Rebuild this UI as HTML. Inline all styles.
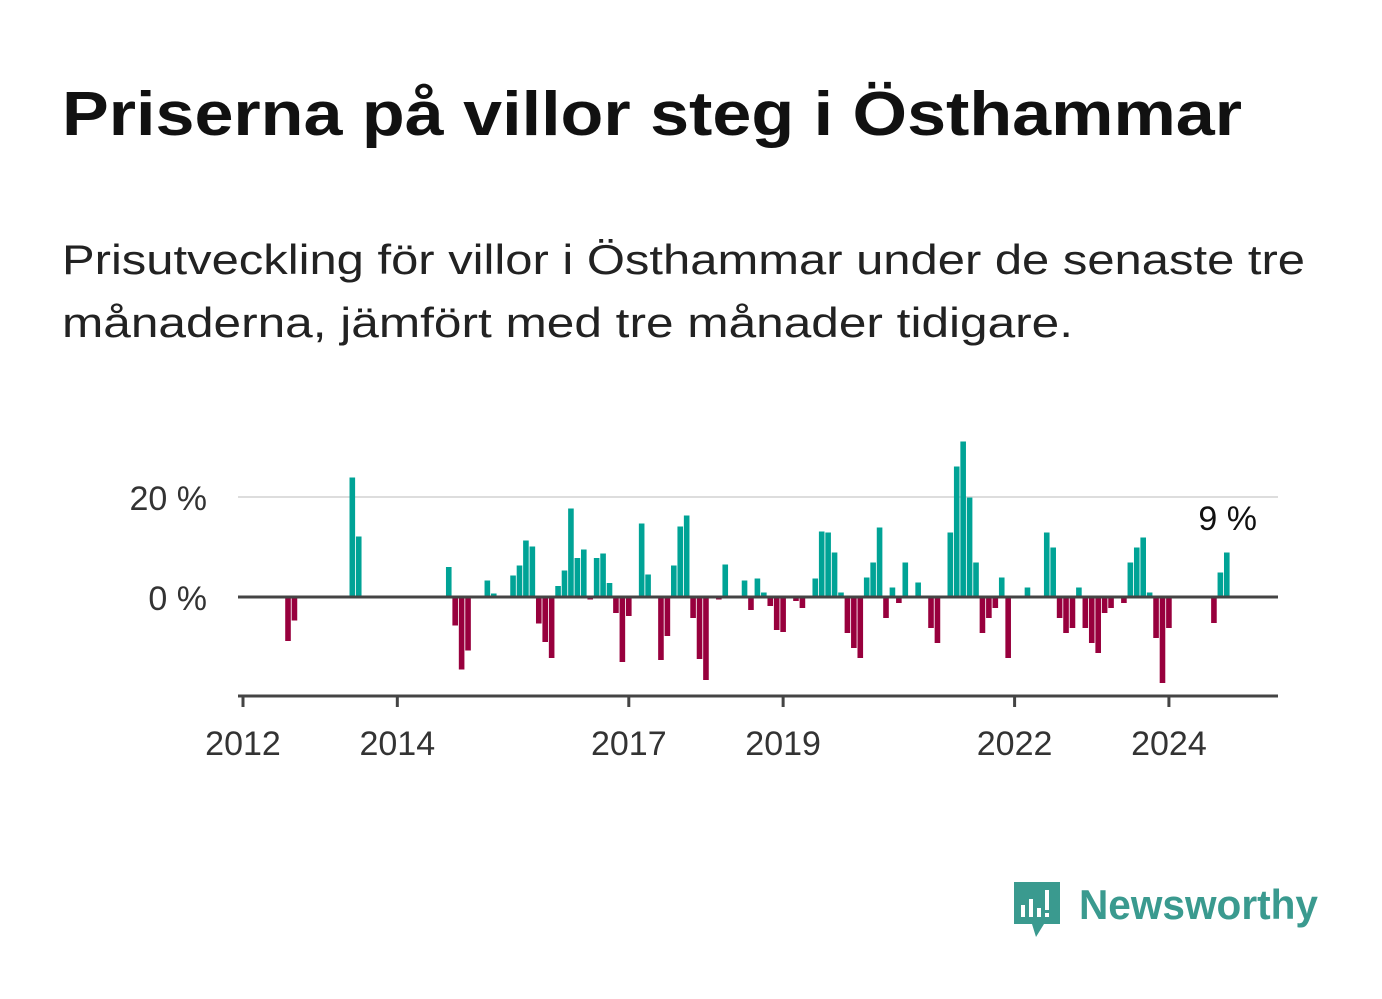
<!DOCTYPE html>
<html><head><meta charset="utf-8"><style>
html,body{margin:0;padding:0;background:#fff;}
svg{display:block;font-family:"Liberation Sans",sans-serif;}
</style></head><body>
<svg width="1382" height="999" viewBox="0 0 1382 999">
<text x="62" y="135" font-size="62" font-weight="bold" fill="#111" textLength="1180" lengthAdjust="spacingAndGlyphs">Priserna på villor steg i Östhammar</text>
<text x="62" y="274" font-size="42" fill="#222" textLength="1243" lengthAdjust="spacingAndGlyphs">Prisutveckling för villor i Östhammar under de senaste tre</text>
<text x="62" y="337" font-size="42" fill="#222" textLength="1011" lengthAdjust="spacingAndGlyphs">månaderna, jämfört med tre månader tidigare.</text>
<g id="plot"></g>
<g>
<path d="M1014 882 h46 v42 h-16 l-8 13 l-4 -13 h-18 z" fill="#3a9a8f"/>
<rect x="1021" y="905" width="4" height="12" fill="#fff"/>
<rect x="1029" y="899" width="4" height="18" fill="#fff"/>
<rect x="1037" y="908" width="4" height="9" fill="#fff"/>
<rect x="1045" y="890" width="4" height="20" fill="#fff"/>
<rect x="1045" y="913" width="4" height="4" fill="#fff"/>
<text x="1079" y="919" font-size="42" font-weight="bold" fill="#3a9a8f" textLength="239" lengthAdjust="spacingAndGlyphs">Newsworthy</text>
</g>
</svg>
<script>
const monthIdx = [7,8,17,18,32,33,34,35,38,39,42,43,44,45,46,47,48,49,50,51,52,53,54,55,56,57,58,59,60,62,63,65,66,67,68,69,70,71,72,74,75,78,79,80,81,82,83,84,86,87,89,90,91,92,93,94,95,96,97,98,99,100,101,102,103,105,107,108,110,111,112,113,114,115,116,117,118,119,122,125,126,127,128,129,130,131,132,133,134,135,137,138,139,140,141,142,143,144,151,152,153];
const values = [-8.8,-4.7,23.9,12.1,6.0,-5.7,-14.5,-10.7,3.3,0.7,4.3,6.3,11.3,10.1,-5.3,-9,-12.2,2.2,5.3,17.7,7.8,9.5,-0.5,7.8,8.7,2.8,-3.2,-13,-3.8,14.7,4.5,-12.6,-7.8,6.3,14.1,16.3,-4.2,-12.4,-16.6,-0.5,6.5,3.3,-2.6,3.7,0.9,-1.8,-6.6,-7,-0.8,-2.2,3.7,13.1,12.9,8.9,0.9,-7.2,-10.2,-12.2,3.9,6.9,13.9,-4.2,1.9,-1.2,6.9,2.9,-6.2,-9.2,12.9,26.1,31.1,19.9,6.9,-7.2,-4.2,-2.2,3.9,-12.2,1.9,12.9,9.9,-4.2,-7.2,-6.2,1.9,-6.2,-9.2,-11.2,-3.2,-2.2,-1.2,6.9,9.9,11.9,0.9,-8.2,-17.2,-6.2,-5.2,4.9,8.9];
const yTicks = [0,20];
const yTickLabels = ["0 %","20 %"];
const xTickIdx = [0,24,60,84,120,144];
const xTickLabels = ["2012","2014","2017","2019","2022","2024"];
const lastLabel = "9 %";

const NS="http://www.w3.org/2000/svg";
const g=document.getElementById('plot');
const X=i=>243+i*6.43;
const Y=v=>597-v*5;
function mk(t,a){const e=document.createElementNS(NS,t);for(const k in a)e.setAttribute(k,a[k]);g.appendChild(e);return e;}
yTicks.forEach((v,i)=>{
  if(v!==0){const l=mk('line',{x1:238,x2:1278,y1:Y(v),y2:Y(v),stroke:'#ddd','stroke-width':2});
  
  }
  const t=mk('text',{x:207,y:Y(v)+13,'font-size':34,fill:'#333','text-anchor':'end'});
  t.textContent=yTickLabels[i];
  
  
});
monthIdx.forEach((m,i)=>{
  const v=values[i];
  const r=mk('rect',{x:X(m)-2.8,width:5.6,y:Math.min(Y(v),Y(0)),height:Math.abs(Y(v)-Y(0)),fill:v>=0?'#00a396':'#98003d'});
  
  
});
const z=mk('line',{x1:238,x2:1278,y1:Y(0),y2:Y(0),stroke:'#444','stroke-width':3});


const ax=mk('line',{x1:238,x2:1278,y1:696,y2:696,stroke:'#444','stroke-width':3});


xTickIdx.forEach((m,i)=>{
  const tk=mk('line',{x1:X(m),x2:X(m),y1:696,y2:707,stroke:'#444','stroke-width':3});
  
  
  const t=mk('text',{x:X(m),y:755,'font-size':34,fill:'#333','text-anchor':'middle'});
  t.textContent=xTickLabels[i];
  
  
});
const ll=mk('text',{x:1257,y:530,'font-size':34,fill:'#111','text-anchor':'end'});
ll.textContent=lastLabel;


</script>
</body></html>
